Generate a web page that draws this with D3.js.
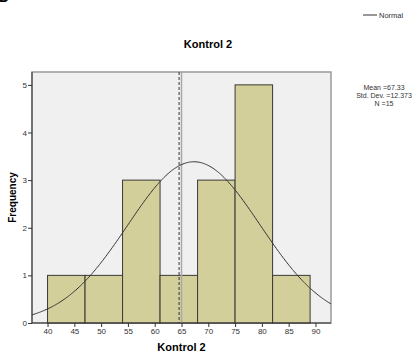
<!DOCTYPE html>
<html>
<head>
<meta charset="utf-8">
<script src="https://cdn.jsdelivr.net/npm/d3@7"></script>
<style>
  body { margin: 0; background: #ffffff; }
  svg { display: block; font-family: "Liberation Sans", Arial, sans-serif; }
</style>
</head>
<body>
<svg id="hist"></svg>
<script>
let outerWidth = 413;
let outerHeight = 354;
let plot = { left: 32, right: 331, top: 72, bottom: 323 };

// data
let binStarts = [40, 47, 54, 61, 68, 75, 82];
let binWidth = 7;
let counts = [1, 1, 3, 1, 3, 5, 1];
let xTicks = [40, 45, 50, 55, 60, 65, 70, 75, 80, 85, 90];
let yTicks = [0, 1, 2, 3, 4, 5];
let statLines = ['Mean =67.33', 'Std. Dev. =12.373', 'N =15'];
let mean = 67.33;
let sd = 12.373;
let n = 15;
let refLine = 65;      // solid grey line
let dashLine = 64.55;  // dashed line

let svg = d3.select('#hist')
  .attr('width', outerWidth)
  .attr('height', outerHeight);

let xScale = d3.scaleLinear()
  .domain([37.1, 92.9])
  .range([plot.left, plot.right]);

let yScale = d3.scaleLinear()
  .domain([0, 5.27])
  .range([plot.bottom, plot.top]);

svg // plot background
  .append('rect')
  .attr('x', plot.left)
  .attr('y', plot.top)
  .attr('width', plot.right - plot.left)
  .attr('height', plot.bottom - plot.top)
  .attr('fill', '#f0f0f0')
  .attr('stroke', '#9a9a9a')
  .attr('stroke-width', 1.5);

svg // bars
  .selectAll('rect.bar')
  .data(binStarts)
  .enter()
  .append('rect')
  .attr('class', 'bar')
  .attr('x', d => xScale(d))
  .attr('y', (d, i) => yScale(counts[i]))
  .attr('width', d => xScale(d + binWidth) - xScale(d))
  .attr('height', (d, i) => yScale(0) - yScale(counts[i]))
  .attr('fill', '#d3cf9a')
  .attr('stroke', '#3a3a36')
  .attr('stroke-width', 1);

svg // grey reference line
  .append('line')
  .attr('x1', xScale(refLine))
  .attr('x2', xScale(refLine))
  .attr('y1', plot.top)
  .attr('y2', plot.bottom)
  .attr('stroke', '#a8a8a8')
  .attr('stroke-width', 1.5);

svg // dashed line
  .append('line')
  .attr('x1', xScale(dashLine))
  .attr('x2', xScale(dashLine))
  .attr('y1', plot.top)
  .attr('y2', plot.bottom)
  .attr('stroke', '#333333')
  .attr('stroke-width', 1)
  .attr('stroke-dasharray', '3,2');

// normal curve from mean / sd / n
let curvePts = d3.range(37.1, 92.95, 0.2).map(x => {
  let z = (x - mean) / sd;
  let f = n * binWidth * Math.exp(-0.5 * z * z) / (sd * Math.sqrt(2 * Math.PI));
  return [xScale(x), yScale(f)];
});

svg
  .append('path')
  .attr('d', d3.line().curve(d3.curveBasis)(curvePts))
  .attr('fill', 'none')
  .attr('stroke', '#333333')
  .attr('stroke-width', 1);

let xAxis = d3.axisBottom(xScale).tickValues(xTicks).tickSize(4).tickSizeOuter(0).tickFormat(d3.format('d'));
let yAxis = d3.axisLeft(yScale).tickValues(yTicks).tickSize(4).tickSizeOuter(0).tickFormat(d3.format('d'));

let gx = svg // x axis
  .append('g')
  .attr('transform', 'translate(0,' + plot.bottom + ')')
  .call(xAxis);
gx.select('.domain').attr('d', 'M' + plot.left + ',0H' + plot.right).attr('stroke', '#333333');
gx.selectAll('line').attr('stroke', '#333333');
gx.selectAll('text').style('font-size', '8px').attr('fill', '#333333').attr('dy', '0.8em').attr('y', 5);

let gy = svg // y axis
  .append('g')
  .attr('transform', 'translate(' + plot.left + ',0)')
  .call(yAxis);
gy.select('.domain').attr('d', 'M0,' + plot.top + 'V' + plot.bottom).attr('stroke', '#333333');
gy.selectAll('line').attr('stroke', '#333333');
gy.selectAll('text').style('font-size', '8px').attr('fill', '#333333').attr('x', -5);

svg // title
  .append('text')
  .attr('x', 208)
  .attr('y', 48)
  .attr('text-anchor', 'middle')
  .style('font-size', '11px')
  .style('font-weight', 'bold')
  .text('Kontrol 2');

svg // x label
  .append('text')
  .attr('x', (plot.left + plot.right) / 2)
  .attr('y', 351)
  .attr('text-anchor', 'middle')
  .style('font-size', '11px')
  .style('font-weight', 'bold')
  .text('Kontrol 2');

svg // y label
  .append('text')
  .attr('transform', 'translate(16,' + (plot.top + plot.bottom) / 2 + ') rotate(-90)')
  .attr('text-anchor', 'middle')
  .style('font-size', '10px')
  .style('font-weight', 'bold')
  .text('Frequency');

svg // legend
  .append('line')
  .attr('x1', 363)
  .attr('x2', 377)
  .attr('y1', 15)
  .attr('y2', 15)
  .attr('stroke', '#333333')
  .attr('stroke-width', 1);

svg
  .append('text')
  .attr('x', 379)
  .attr('y', 17.5)
  .style('font-size', '7.5px')
  .attr('fill', '#333333')
  .text('Normal');

svg // stats text
  .selectAll('text.stat')
  .data(statLines)
  .enter()
  .append('text')
  .attr('class', 'stat')
  .attr('x', 384)
  .attr('y', (d, i) => 89.5 + i * 8)
  .attr('text-anchor', 'middle')
  .style('font-size', '7px')
  .attr('fill', '#333333')
  .text(d => d);

svg // clipped letter at top-left corner
  .append('text')
  .attr('x', -1)
  .attr('y', 2)
  .style('font-size', '14px')
  .style('font-weight', 'bold')
  .text('D');
</script>
</body>
</html>
